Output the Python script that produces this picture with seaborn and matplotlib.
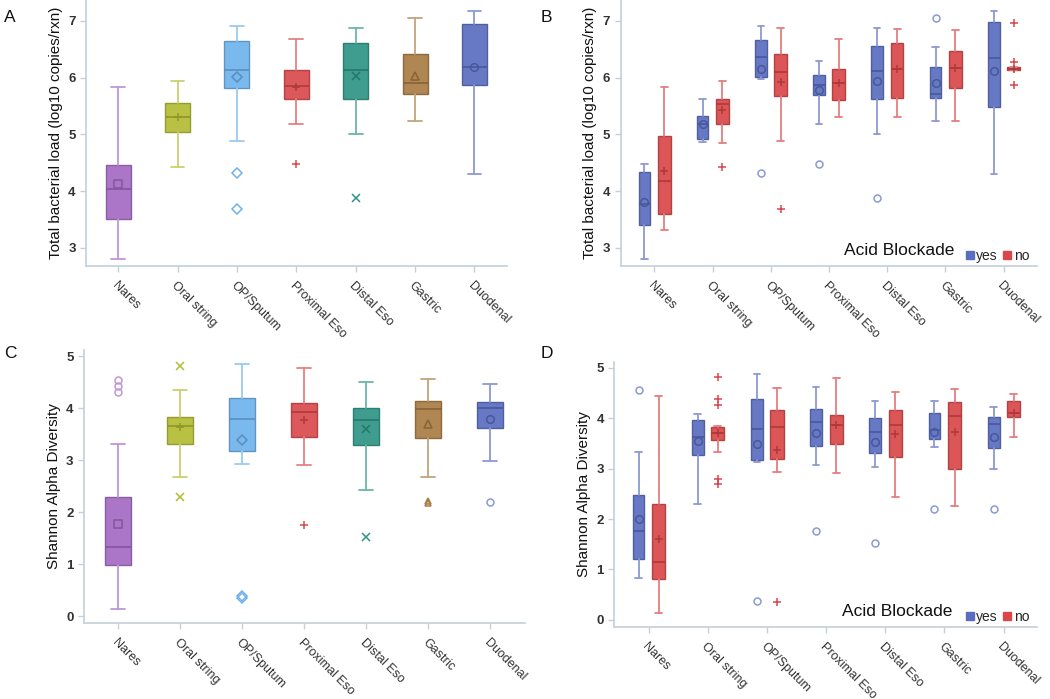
import numpy as np
import matplotlib
matplotlib.use("Agg")
import matplotlib.pyplot as plt
import seaborn as sns
from matplotlib.colors import to_rgb
from matplotlib.lines import Line2D

# sites along the gut
sites = ["Nares", "Oral string", "OP/Sputum", "Proximal Eso", "Distal Eso", "Gastric", "Duodenal"]

# box stats: [whisker low, Q1, median, Q3, whisker high]
load_all_box = [[2.81, 3.51, 4.04, 4.46, 5.84], [4.43, 5.05, 5.31, 5.56, 5.95],
                [4.88, 5.82, 6.14, 6.64, 6.92], [5.18, 5.63, 5.86, 6.14, 6.69],
                [5.01, 5.62, 6.14, 6.61, 6.88], [5.24, 5.71, 5.91, 6.42, 7.06],
                [4.30, 5.87, 6.18, 6.95, 7.18]]
load_all_mean = [4.12, 5.30, 6.01, 5.84, 6.03, 6.03, 6.18]
load_all_fliers = [[], [], [4.32, 3.68], [4.47], [3.87], [], []]

load_yes_box = [[2.81, 3.41, 3.78, 4.34, 4.47], [4.86, 4.92, 5.19, 5.33, 5.62],
                [5.98, 6.01, 6.36, 6.66, 6.92], [5.18, 5.69, 5.87, 6.05, 6.29],
                [5.01, 5.62, 6.12, 6.56, 6.88], [5.24, 5.64, 5.72, 6.19, 6.54],
                [4.30, 5.49, 6.34, 6.98, 7.18]]
load_yes_mean = [3.80, 5.18, 6.15, 5.79, 5.94, 5.91, 6.12]
load_yes_fliers = [[], [], [4.32], [4.47], [3.87], [7.06], []]

load_no_box = [[3.31, 3.59, 4.17, 4.98, 5.84], [4.85, 5.19, 5.53, 5.63, 5.95],
               [4.88, 5.68, 6.10, 6.42, 6.87], [5.30, 5.61, 5.90, 6.15, 6.69],
               [5.30, 5.64, 6.15, 6.61, 6.85], [5.24, 5.81, 6.17, 6.47, 6.84],
               [6.14, 6.14, 6.16, 6.19, 6.19]]
load_no_mean = [4.36, 5.43, 5.92, 5.90, 6.15, 6.17, 6.16]
load_no_fliers = [[], [4.43], [3.68], [], [], [], [6.96, 6.27, 5.87]]

div_all_box = [[0.14, 0.99, 1.33, 2.29, 3.32], [2.68, 3.32, 3.66, 3.83, 4.36],
               [2.92, 3.18, 3.79, 4.20, 4.86], [2.90, 3.45, 3.93, 4.10, 4.78],
               [2.42, 3.29, 3.78, 4.01, 4.51], [2.68, 3.43, 3.99, 4.15, 4.57],
               [2.98, 3.62, 4.01, 4.13, 4.46]]
div_all_mean = [1.78, 3.64, 3.40, 3.77, 3.60, 3.70, 3.79]
div_all_fliers = [[4.31, 4.44, 4.55], [4.81, 2.30], [0.38, 0.35], [1.75], [1.52], [2.21, 2.18], [2.19]]

div_yes_box = [[0.83, 1.20, 1.76, 2.48, 3.32], [2.30, 3.27, 3.63, 3.96, 4.08],
               [3.12, 3.17, 3.78, 4.38, 4.87], [3.07, 3.45, 3.92, 4.19, 4.62],
               [3.04, 3.30, 3.73, 4.00, 4.34], [3.42, 3.59, 3.76, 4.11, 4.33],
               [3.00, 3.40, 3.88, 4.02, 4.22]]
div_yes_mean = [2.01, 3.55, 3.49, 3.71, 3.52, 3.73, 3.63]
div_yes_fliers = [[4.56], [], [0.38], [1.76], [1.52], [2.19], [2.20]]

div_no_box = [[0.13, 0.82, 1.14, 2.30, 4.44], [3.32, 3.57, 3.70, 3.82, 3.84],
              [2.93, 3.18, 3.82, 4.17, 4.60], [2.91, 3.48, 3.86, 4.06, 4.79],
              [2.43, 3.22, 3.86, 4.17, 4.52], [2.25, 2.99, 4.04, 4.31, 4.58],
              [3.63, 4.02, 4.11, 4.34, 4.47]]
div_no_mean = [1.61, 3.70, 3.36, 3.86, 3.69, 3.73, 4.11]
div_no_fliers = [[], [4.82, 4.38, 4.26, 2.79, 2.69], [0.36], [], [], [], []]

groups = ["yes", "no"]

site_colors = ["#a56ac4", "#b3bc34", "#6fb3ec", "#db4a4c", "#2e9586", "#a97c43", "#5a6ec0"]
group_colors = ["#5a6ec0", "#d9474a"]
site_mean_markers = ["s", "+", "D", "+", "x", "^", "o"]
site_flier_markers = ["o", "x", "D", "+", "x", "^", "o"]
group_markers = ["o", "+"]

sns.set_theme(style="ticks")
plt.rcParams["font.family"] = ["Liberation Sans", "DejaVu Sans"]
AXC = "#c3cfda"
TXT = "#333333"


def shade(c, f):
    r = np.array(to_rgb(c))
    return tuple(r * f) if f < 1 else tuple(r + (1 - r) * (f - 1))


def draw_boxes(ax, boxes, means, fliers, positions, colors, mmarkers, fmarkers, width):
    for i, (b, m, fl) in enumerate(zip(boxes, means, fliers)):
        col = colors[i]
        dark = shade(col, 0.8)
        light = shade(col, 1.3)
        st = dict(whislo=b[0], q1=b[1], med=b[2], q3=b[3], whishi=b[4], fliers=[])
        ax.bxp([st], positions=[positions[i]], widths=width, patch_artist=True,
               showfliers=False, showcaps=True, capwidths=width * 0.55,
               boxprops=dict(facecolor=col, edgecolor=dark, alpha=0.92, linewidth=1.0),
               medianprops=dict(color=dark, linewidth=1.2),
               whiskerprops=dict(color=light, linewidth=1.3),
               capprops=dict(color=light, linewidth=1.3))
        mk = mmarkers[i]
        filled = mk in ("+", "x")
        ax.plot(positions[i], m, marker=mk, ms=6 if filled else 5.5, mew=1.1,
                mfc=dark if filled else "none", mec=dark, ls="none", zorder=5)
        if fl:
            fk = fmarkers[i]
            ax.plot([positions[i]] * len(fl), fl, marker=fk, ms=5 if fk not in ("+", "x") else 5.5,
                    mew=1.1, mfc="none", mec=light if fk == "o" else col, ls="none", zorder=5)


def style_axis(ax, ylim, yticks, ylabel, xlim):
    ax.set_xlim(*xlim)
    ax.set_ylim(*ylim)
    ax.set_xticks(range(len(sites)))
    ax.set_xticklabels(sites, rotation=-45, ha="left", rotation_mode="anchor",
                       fontsize=9, color=TXT)
    ax.set_yticks(yticks)
    ax.set_yticklabels([str(t) for t in yticks], fontsize=9.5, color=TXT, fontweight="bold")
    ax.set_ylabel(ylabel, fontsize=11, color="#111111")
    ax.tick_params(axis="both", color=AXC, length=4, width=1)
    ax.tick_params(axis="x", pad=6)
    sns.despine(ax=ax)
    for s in ("left", "bottom"):
        ax.spines[s].set_color(AXC)
        ax.spines[s].set_linewidth(1.2)


def add_group_legend(ax):
    handles = [Line2D([], [], marker="s", ls="none", ms=6, mfc=c, mec=c) for c in group_colors]
    leg = ax.legend(handles, groups, ncol=2, loc="lower right", frameon=False,
                    handletextpad=0.15, columnspacing=0.4, handlelength=0.6,
                    fontsize=10, bbox_to_anchor=(1.0, -0.02), borderaxespad=0.2)
    ax.text(0.8, 0.03, "Acid Blockade", transform=ax.transAxes, ha="right", va="bottom",
            fontsize=12.5, color="#111111")
    return leg


fig = plt.figure(figsize=(10.5, 6.99), dpi=100)
axA = fig.add_axes([0.082, 0.6195, 0.401, 0.3805])
axB = fig.add_axes([0.591, 0.6195, 0.397, 0.3805])
axC = fig.add_axes([0.080, 0.109, 0.420, 0.390])
axD = fig.add_axes([0.585, 0.103, 0.403, 0.379])

pos = np.arange(len(sites))
off = 0.17
draw_boxes(axA, load_all_box, load_all_mean, load_all_fliers, pos, site_colors,
           site_mean_markers, site_flier_markers, 0.42)
draw_boxes(axC, div_all_box, div_all_mean, div_all_fliers, pos, site_colors,
           site_mean_markers, site_flier_markers, 0.42)
for ax, yb, ym, yf, nb, nm, nf in [(axB, load_yes_box, load_yes_mean, load_yes_fliers,
                                    load_no_box, load_no_mean, load_no_fliers),
                                   (axD, div_yes_box, div_yes_mean, div_yes_fliers,
                                    div_no_box, div_no_mean, div_no_fliers)]:
    draw_boxes(ax, yb, ym, yf, pos - off, [group_colors[0]] * 7, [group_markers[0]] * 7,
               [group_markers[0]] * 7, 0.2)
    draw_boxes(ax, nb, nm, nf, pos + off, [group_colors[1]] * 7, [group_markers[1]] * 7,
               [group_markers[1]] * 7, 0.22)

load_label = "Total bacterial load (log10 copies/rxn)"
div_label = "Shannon Alpha Diversity"
style_axis(axA, (2.68, 7.37), [3, 4, 5, 6, 7], load_label, (-0.54, 6.55))
style_axis(axB, (2.68, 7.37), [3, 4, 5, 6, 7], load_label, (-0.58, 6.58))
style_axis(axC, (-0.13, 5.12), [0, 1, 2, 3, 4, 5], div_label, (-0.55, 6.56))
style_axis(axD, (-0.14, 5.11), [0, 1, 2, 3, 4, 5], div_label, (-0.58, 6.57))
add_group_legend(axB)
add_group_legend(axD)

for lab, x, y in [("A", 0.004, 0.985), ("B", 0.515, 0.985), ("C", 0.004, 0.505), ("D", 0.515, 0.505)]:
    fig.text(x, y, lab, fontsize=12.5, ha="left", va="top", color="#111111")

fig.savefig("out.png", dpi=100)
